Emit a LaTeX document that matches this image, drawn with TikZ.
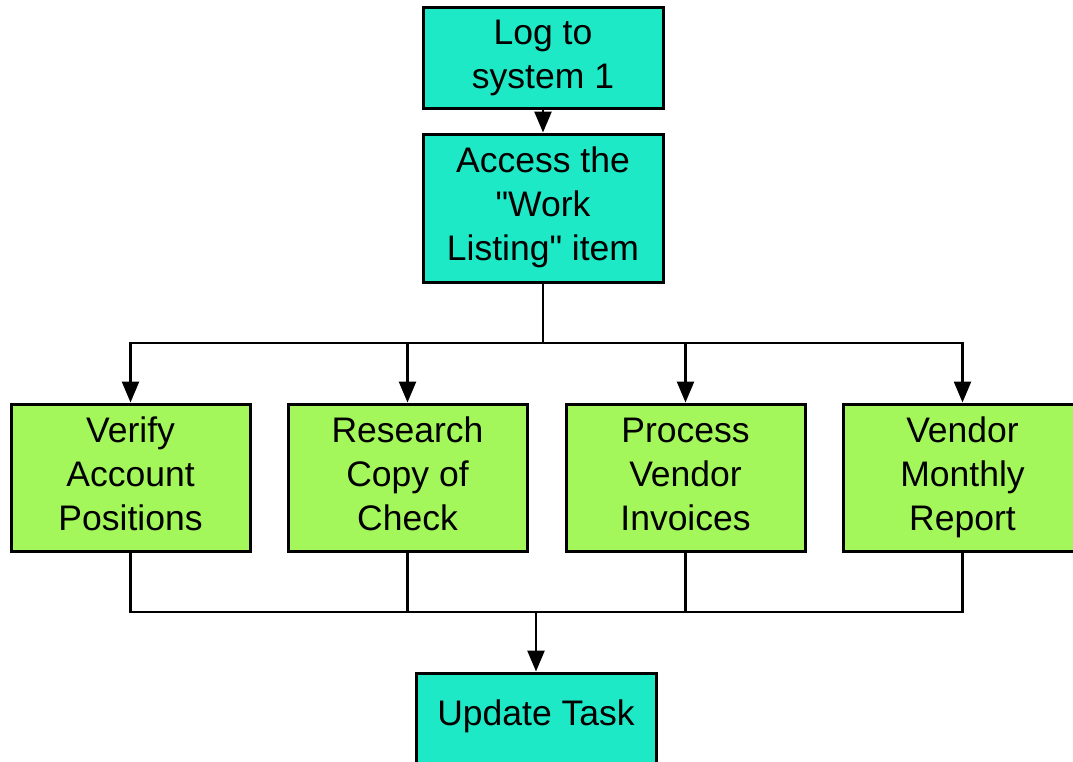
\documentclass[tikz,border=0pt]{standalone}
\usepackage{fontspec}
\setmainfont{Liberation Sans}
\usetikzlibrary{arrows.meta}
\definecolor{tealbox}{RGB}{30,233,198}
\definecolor{greenbox}{RGB}{163,247,91}
\begin{document}
\begin{tikzpicture}[x=1pt,y=-1pt,
  every node/.style={font=\fontsize{35.5}{44}\selectfont, align=center, inner sep=0pt},
  tbox/.style={draw=black, line width=3pt, fill=tealbox, minimum width=240pt},
  gbox/.style={draw=black, line width=3pt, fill=greenbox, minimum width=239pt, minimum height=147pt},
  conn/.style={line width=2.6pt, draw=black},
  arr/.style={conn, -{Triangle[width=17pt,length=21pt]}}]
\useasboundingbox (0,0) rectangle (1073,761);
\clip (0,0) rectangle (1073,761);
\node[tbox, minimum height=101pt] (log) at (543,57.5) {\strut Log to\\system 1\strut};
\node[tbox, minimum height=148pt] (access) at (543,208) {\strut Access the\\\textquotedbl Work\\Listing\textquotedbl{} item\strut};
\node[gbox] (verify) at (130.5,477.5) {\strut Verify\\Account\\Positions\strut};
\node[gbox] (research) at (407.5,477.5) {\strut Research\\Copy of\\Check\strut};
\node[gbox] (process) at (685.5,477.5) {\strut Process\\Vendor\\Invoices\strut};
\node[gbox] (monthly) at (962.5,477.5) {\strut Vendor\\Monthly\\Report\strut};
\node[tbox, minimum height=148pt] (update) at (536,747) {};
\node[anchor=base] (updatetext) at (536,725) {Update Task};
\coordinate (split) at (543,343);
\coordinate (merge) at (536,612);
\draw[arr] (log) -- (access);
\draw[conn] (access.south) -- (split);
\draw[arr] (split) -| (verify.north);
\draw[arr] (split) -| (research.north);
\draw[arr] (split) -| (process.north);
\draw[arr] (split) -| (monthly.north);
\draw[conn] (verify.south) |- (merge);
\draw[conn] (research.south) |- (merge);
\draw[conn] (process.south) |- (merge);
\draw[conn] (monthly.south) |- (merge);
\draw[arr] (merge) -- (update.north);
\end{tikzpicture}
\end{document}
